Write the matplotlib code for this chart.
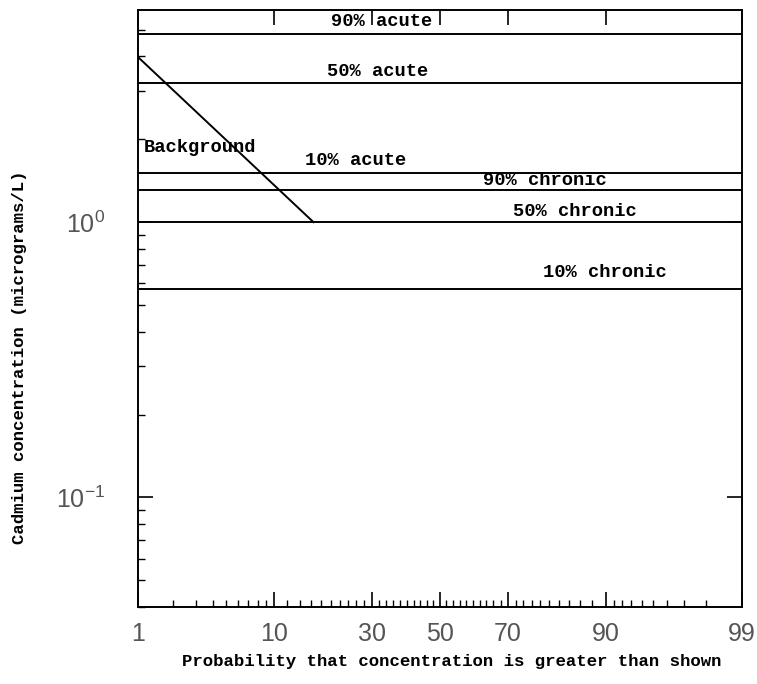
import numpy as np
import matplotlib
matplotlib.use("Agg")
import matplotlib.pyplot as plt
from matplotlib.ticker import FixedLocator, NullFormatter, LogLocator
from statistics import NormalDist

# niveles de referencia (microgramos/L)
niveles = ["90% acute", "50% acute", "10% acute", "90% chronic", "50% chronic", "10% chronic"]
valores = [4.83, 3.2, 1.51, 1.31, 1.0, 0.57]
# posicion de cada etiqueta: probabilidad (%) y concentracion
etiq_x = [32.7, 31.6, 25.9, 79.1, 85.1, 89.8]
etiq_y = [5.34, 3.54, 1.68, 1.42, 1.096, 0.658]

# linea de fondo
fondo_p = [1, 16.5]
fondo_c = [3.98, 1.0]

mayores = [1, 10, 30, 50, 70, 90, 99]
menores = list(range(2, 10)) + list(range(12, 89, 2)) + list(range(91, 99))

nd = NormalDist()


def adelante(p):
    p = np.clip(np.asarray(p, dtype=float), 1e-4, 100 - 1e-4)
    return np.vectorize(lambda v: nd.inv_cdf(v / 100.0))(p)


def atras(z):
    z = np.asarray(z, dtype=float)
    return np.vectorize(lambda v: nd.cdf(v) * 100.0)(z)


plt.rcParams["mathtext.fontset"] = "custom"
plt.rcParams["mathtext.rm"] = "Liberation Sans"
plt.rcParams["mathtext.it"] = "Liberation Sans"
plt.rcParams["mathtext.default"] = "regular"

fuente = {"family": "Liberation Mono", "weight": "bold", "size": 13.5}
fuente_ejes = {"family": "Liberation Mono", "weight": "bold", "size": 12.5}

fig = plt.figure(figsize=(7.57, 6.84), dpi=100)
ax = fig.add_axes([0.1823, 0.1126, 0.98 - 0.1823, 0.9854 - 0.1126])

ax.set_xscale("function", functions=(adelante, atras))
ax.set_yscale("log")
ax.set_xlim(1, 99)
ax.set_ylim(0.04, 5.9)

for v in valores:
    ax.axhline(v, color="black", lw=1.4)
ax.plot(fondo_p, fondo_c, color="black", lw=1.4)

for t, x, y in zip(niveles, etiq_x, etiq_y):
    ax.text(x, y, t, ha="center", va="center", fontdict=fuente)
ax.text(1.12, 1.87, "Background", ha="left", va="center", fontdict=fuente)

ax.xaxis.set_major_locator(FixedLocator(mayores))
ax.xaxis.set_minor_locator(FixedLocator(menores))
ax.set_xticklabels([str(m) for m in mayores])
ax.xaxis.set_minor_formatter(NullFormatter())
ax.yaxis.set_major_locator(LogLocator(base=10, numticks=10))
ax.yaxis.set_minor_locator(LogLocator(base=10, subs=np.arange(2, 10), numticks=10))
ax.yaxis.set_minor_formatter(NullFormatter())

ax.tick_params(axis="both", which="major", direction="in", length=11, width=1.2,
               labelsize=18, labelcolor="#555555")
ax.tick_params(axis="x", which="major", pad=11)
ax.tick_params(axis="y", which="major", pad=24)
ax.tick_params(axis="both", which="minor", direction="in", length=5, width=1.0)
ax.tick_params(axis="x", which="major", top=True)
ax.tick_params(axis="y", which="major", right=True)
for lab in ax.get_xticklabels() + ax.get_yticklabels():
    lab.set_family("Liberation Sans")

for s in ax.spines.values():
    s.set_linewidth(1.4)

ax.set_xlabel("Probability that concentration is greater than shown", fontdict=fuente_ejes)
ax.set_ylabel("Cadmium concentration (micrograms/L)", fontdict=fuente_ejes)
ax.xaxis.set_label_coords(0.52, -0.079)
ax.yaxis.set_label_coords(-0.184, 0.419)

fig.savefig("out.png", dpi=100)
